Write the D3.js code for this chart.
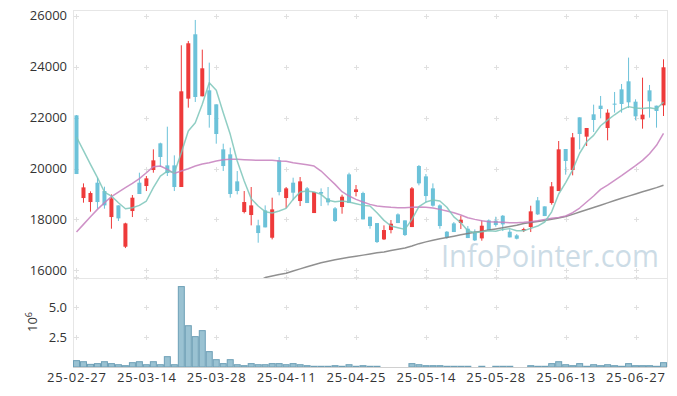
<!DOCTYPE html>
<html><head><meta charset="utf-8">
<script src="https://cdn.jsdelivr.net/npm/d3@7"></script>
<style>body{margin:0;background:#fff;} svg{display:block;font-family:"Open Sans",sans-serif;}</style>
</head><body><svg id="c" width="677" height="396"></svg>
<script>
const dates = ["25-02-27","25-02-28","25-03-04","25-03-05","25-03-06","25-03-07","25-03-10","25-03-11","25-03-12","25-03-13",
"25-03-14","25-03-17","25-03-18","25-03-19","25-03-20","25-03-21","25-03-24","25-03-25","25-03-26","25-03-27",
"25-03-28","25-03-31","25-04-01","25-04-02","25-04-03","25-04-04","25-04-07","25-04-08","25-04-09","25-04-10",
"25-04-11","25-04-14","25-04-15","25-04-16","25-04-17","25-04-18","25-04-21","25-04-22","25-04-23","25-04-24",
"25-04-25","25-04-28","25-04-29","25-04-30","25-05-02","25-05-07","25-05-08","25-05-09","25-05-12","25-05-13",
"25-05-14","25-05-15","25-05-16","25-05-19","25-05-20","25-05-21","25-05-22","25-05-23","25-05-26","25-05-27",
"25-05-28","25-05-29","25-05-30","25-06-02","25-06-04","25-06-05","25-06-09","25-06-10","25-06-11","25-06-12",
"25-06-13","25-06-16","25-06-17","25-06-18","25-06-19","25-06-20","25-06-23","25-06-24","25-06-25","25-06-26",
"25-06-27","25-06-30","25-07-01","25-07-02","25-07-03"];
const open = [22088,18841,18684,19444,19116,18095,18553,16930,18331,19444,
19313,19941,20989,20124,20124,19274,22743,25270,22835,23070,
22520,20753,20557,19496,18292,18174,17768,18357,17283,20321,
18841,19444,18724,19221,18252,19077,18828,18436,18488,19771,
19077,19038,18108,17859,17218,17585,18200,17964,17702,20098,
19692,19221,18553,17519,17846,17859,17637,17519,17257,17964,
17951,18147,17519,17375,17558,17702,18750,18514,18645,19116,
20766,19941,22010,21251,22128,22468,21591,22547,23109,23424,
22625,21931,23070,22468,22481];
const close = [19784,19260,19038,18684,18553,18828,18043,17846,18855,18999,
19614,20321,20452,19823,19274,23031,24917,22808,23935,22102,
21355,20098,18999,19116,18684,18553,17467,17689,18396,19077,
19221,19051,19496,18645,19077,19012,18671,17938,18894,18645,
19182,18003,17742,17113,17585,17833,17859,17388,19221,19417,
18920,18540,17742,17296,17506,17990,17270,17179,17755,17585,
17781,17807,17296,17244,17624,18318,18200,18134,19300,20753,
20295,21224,21355,21591,21905,22337,22193,22507,22534,22599,
22049,22115,22638,22259,23974];
const high = [22100,19417,19103,19640,19287,18985,18553,17872,18959,19836,
19705,20753,21015,21643,20517,24838,25008,25833,24668,24157,
22520,20975,20819,19902,19116,19274,17990,18553,18855,20452,
19274,19640,19666,19274,19077,19221,19274,18488,18972,19836,
19352,19090,18108,17859,17768,17977,18239,17964,19274,20137,
19784,19417,18593,17545,17899,18147,17742,17611,17964,18003,
18108,18174,17611,17427,17676,18540,18881,18514,19470,21080,
20766,21395,22010,21591,22507,22848,22324,23005,23319,24354,
22717,23568,23280,22468,24288];
const low = [19784,18658,18305,18422,18422,17637,17938,16877,18095,18999,
19116,19836,20059,19705,19116,19274,22390,22612,22835,21604,
20975,19902,18855,18985,18239,17768,17087,17689,17218,18946,
18449,18750,18527,18645,18252,18527,18553,17899,18226,18645,
18907,18003,17637,17074,17192,17454,17859,17349,17702,19339,
18658,18501,17637,17244,17506,17624,17270,17153,17166,17585,
17716,17545,17296,17218,17506,17506,18174,18134,18580,19116,
19758,19732,20753,20884,21434,21971,21107,22193,22193,22376,
21892,21565,21997,21604,22062];
// volume in millions
const volume = [0.53,0.44,0.22,0.28,0.44,0.28,0.19,0.11,0.36,0.44,
0.19,0.44,0.19,0.86,0.19,6.7,3.44,2.53,3.03,1.28,
0.61,0.28,0.61,0.19,0.11,0.28,0.19,0.19,0.28,0.28,
0.19,0.28,0.19,0.11,0.06,0.06,0.06,0.11,0.06,0.19,
0.06,0.11,0.06,0.06,0,0,0,0,0.28,0.19,
0.11,0.11,0.11,0.06,0.06,0.06,0.06,0,0.06,0,
0.06,0.06,0.06,0,0,0.11,0.06,0.06,0.28,0.44,
0.19,0.11,0.28,0.06,0.19,0.11,0.19,0.11,0.06,0.28,
0.11,0.11,0.11,0.06,0.36];
const ma5 = [21237,20701,20164,19640,19077,18920,18658,18422,18462,18553,
18724,19248,19705,19902,19836,20622,21473,21800,22520,23372,
23070,22193,21342,20295,19509,18815,18527,18305,18252,18331,
18436,18789,19077,19116,19077,18985,18750,18698,18724,18684,
18619,18553,18527,18265,17964,17742,17676,17611,18003,18501,
18684,18763,18724,18480,18100,17870,17560,17480,17520,17560,
17540,17610,17640,17560,17560,17650,17740,17900,18300,19000,
19450,19950,20600,21050,21300,21680,21900,22110,22300,22430,
22380,22360,22390,22340,22610];
const ma20 = [17506,17807,18108,18396,18658,18894,19077,19247,19417,19601,
19836,20072,20098,19967,19810,19902,19993,20098,20177,20229,
20295,20347,20360,20360,20347,20334,20321,20321,20321,20295,
20282,20229,20190,20151,20098,19902,19640,19378,19090,18920,
18789,18684,18593,18527,18501,18475,18462,18462,18475,18488,
18475,18449,18396,18331,18265,18174,18070,18003,17951,17912,
17899,17886,17872,17872,17886,17912,17951,18003,18043,18082,
18134,18265,18449,18684,18920,19182,19352,19535,19719,19915,
20111,20321,20583,20910,21381];
const ma60 = [null,null,null,null,null,null,null,null,null,null,
null,null,null,null,null,null,null,null,null,null,
null,null,null,null,null,null,15560,15720,15780,15840,
15885,15975,16060,16140,16225,16300,16360,16415,16470,16515,
16560,16600,16645,16690,16725,16780,16830,16880,16960,17050,
17120,17180,17240,17290,17345,17400,17450,17500,17540,17590,
17630,17675,17720,17770,17840,17880,17920,17960,18010,18060,
18115,18200,18290,18380,18470,18560,18650,18745,18830,18915,
19000,19090,19170,19250,19340];
const priceTicks = [16000,18000,20000,22000,24000,26000];
const volTicks = [2.5,5.0];
const volGrid = [2.5,5.0,7.5];
const dateTickIdx = [0,10,20,30,40,50,60,70,80];

const svg = d3.select("#c");
const L=73,R=667,T=10,PB=278,VB=367;
const n = dates.length;
const x = d3.scaleLinear().domain([-0.5, n-0.5]).range([L,R]);
const y = d3.scaleLinear().domain([16000,26000]).range([270.4,15.7]);
const yv = d3.scaleLinear().domain([0,2.5]).range([VB,337]);

// frame
const fr = svg.append("g").attr("stroke","#e6e6e6").attr("stroke-width",1).attr("shape-rendering","crispEdges");
fr.append("line").attr("x1",L).attr("x2",R).attr("y1",T+0.5).attr("y2",T+0.5);
fr.append("line").attr("x1",L).attr("x2",R).attr("y1",PB+0.5).attr("y2",PB+0.5);
fr.append("line").attr("x1",L+0.5).attr("x2",L+0.5).attr("y1",T).attr("y2",VB);
fr.append("line").attr("x1",R+0.5).attr("x2",R+0.5).attr("y1",T).attr("y2",VB);

// plus markers
const plus = svg.append("g").attr("stroke","#e0e0e0").attr("stroke-width",1).attr("shape-rendering","crispEdges");
function addPlus(px,py){
  plus.append("line").attr("x1",Math.round(px)-2).attr("x2",Math.round(px)+3).attr("y1",Math.round(py)+0.5).attr("y2",Math.round(py)+0.5);
  plus.append("line").attr("x1",Math.round(px)+0.5).attr("x2",Math.round(px)+0.5).attr("y1",Math.round(py)-2).attr("y2",Math.round(py)+3);
}
dateTickIdx.forEach(i=>{
  priceTicks.forEach(p=>addPlus(x(i),y(p)));
  volGrid.forEach(v=>addPlus(x(i),yv(v)));
});

// clip
svg.append("clipPath").attr("id","pc").append("rect").attr("x",L).attr("y",T).attr("width",R-L).attr("height",PB-T);
const pg = svg.append("g").attr("clip-path","url(#pc)");

const idx = d3.range(n);
const RED="#ee3a3a", BLUE="#6cc2d9";
const col = i => close[i] >= open[i] ? RED : BLUE;
// wicks
pg.append("g").selectAll("line").data(idx).join("line")
  .attr("x1",i=>x(i)).attr("x2",i=>x(i))
  .attr("y1",i=>y(high[i])).attr("y2",i=>y(low[i]))
  .attr("stroke",col).attr("stroke-width",1);
// bodies
pg.append("g").selectAll("rect").data(idx).join("rect")
  .attr("x",i=>x(i)-2).attr("width",4)
  .attr("y",i=>y(Math.max(open[i],close[i])))
  .attr("height",i=>Math.max(1,Math.abs(y(open[i])-y(close[i]))))
  .attr("fill",col);

// MA lines
function drawLine(arr,color,w,op){
  const ln = d3.line().defined(i=>arr[i]!=null).x(i=>x(i)).y(i=>y(arr[i]));
  pg.append("path").attr("d",ln(idx)).attr("fill","none").attr("stroke",color)
    .attr("stroke-width",w).attr("stroke-opacity",op).attr("stroke-linejoin","round");
}
drawLine(ma60,"#7d7d7d",1.5,0.85);
drawLine(ma20,"#c57fbd",1.5,0.85);
drawLine(ma5,"#7cc5ba",1.5,0.85);

// volume bars
const bw = x(1)-x(0);
svg.append("g").selectAll("rect").data(idx.filter(i=>volume[i]>0)).join("rect")
  .attr("x",i=>x(i)-bw/2+0.5).attr("width",bw-1)
  .attr("y",i=>yv(volume[i])).attr("height",i=>VB-yv(volume[i]))
  .attr("fill","#9ac2d2").attr("stroke","#6d9fb6").attr("stroke-width",1);

// bottom axis line
svg.append("line").attr("x1",L).attr("x2",R).attr("y1",VB+0.5).attr("y2",VB+0.5)
  .attr("stroke","#d0d0d0").attr("shape-rendering","crispEdges");

// watermark
svg.append("text").attr("x",441).attr("y",267).text("InfoPointer.com")
  .attr("font-size",31).attr("fill","#bcd1de").attr("fill-opacity",0.75)
  .attr("textLength",218).attr("lengthAdjust","spacingAndGlyphs");

// y labels
const tx = svg.append("g").attr("fill","#333").attr("font-size",13);
priceTicks.forEach(p=>tx.append("text").attr("x",67).attr("y",y(p)).attr("dy","0.35em").attr("text-anchor","end").text(p));
volTicks.forEach(v=>tx.append("text").attr("x",67).attr("y",yv(v)).attr("dy","0.35em").attr("text-anchor","end").text(v.toFixed(1)));
dateTickIdx.forEach(i=>tx.append("text").attr("x",x(i)).attr("y",382).attr("text-anchor","middle")
  .attr("textLength",59).attr("lengthAdjust","spacing").text(dates[i]));
// 10^6 label
const ul = tx.append("text").attr("transform","translate(37,322) rotate(-90)").attr("text-anchor","middle");
ul.append("tspan").text("10");
ul.append("tspan").attr("dy",-5).attr("font-size",9).text("6");
</script></body></html>
